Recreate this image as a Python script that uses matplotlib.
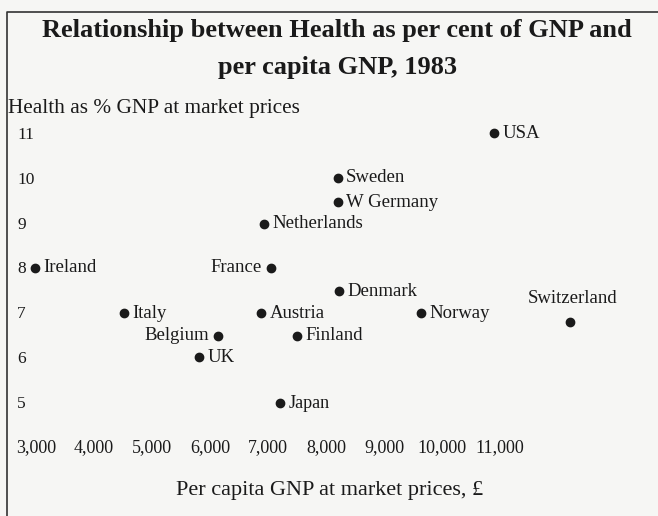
import matplotlib.pyplot as plt
from matplotlib.lines import Line2D

# data
countries = ["USA", "Sweden", "W Germany", "Netherlands", "Ireland", "France",
             "Denmark", "Italy", "Austria", "Norway", "Switzerland", "Belgium",
             "Finland", "UK", "Japan"]
gnp_per_capita = [10900, 8200, 8200, 6930, 2980, 7050,
                  8220, 4520, 6880, 9640, 12200, 6140,
                  7500, 5810, 7210]
health_pct = [11.0, 10.0, 9.46, 8.97, 7.99, 7.99,
              7.47, 6.98, 6.98, 6.98, 6.78, 6.47,
              6.47, 6.0, 4.97]

x_ticks = [3000, 4000, 5000, 6000, 7000, 8000, 9000, 10000, 11000]
y_ticks = [5, 6, 7, 8, 9, 10, 11]

# where each label sits relative to its dot
label_side = {"France": "left", "Belgium": "left", "Switzerland": "above"}

plt.rcParams['font.family'] = ['Liberation Serif', 'DejaVu Serif']
bg = '#f6f6f4'
ink = '#1a1a1a'

fig = plt.figure(figsize=(6.58, 5.16), dpi=100, facecolor=bg)
ax = fig.add_axes([12 / 658, 80 / 516, 646 / 658, 336 / 516])
ax.set_facecolor(bg)
ax.set_xlim(2586, 13724)
ax.set_ylim(4.237, 11.737)
for s in ax.spines.values():
    s.set_visible(False)

ax.scatter(gnp_per_capita, health_pct, s=36, color=ink, zorder=3, clip_on=False)

for name, x, y in zip(countries, gnp_per_capita, health_pct):
    side = label_side.get(name, "right")
    size = 13 if name == "Japan" else 13.5
    if side == "left":
        ax.annotate(name, (x, y), xytext=(-6.5, 0), textcoords='offset points',
                    ha='right', va='center', fontsize=size, color=ink)
    elif side == "above":
        ax.annotate(name, (x, y), xytext=(2, 17), textcoords='offset points',
                    ha='center', va='center', fontsize=size, color=ink)
    else:
        ax.annotate(name, (x, y), xytext=(6, 0), textcoords='offset points',
                    ha='left', va='center', fontsize=size, color=ink)

# tick labels sit inside the frame, no tick marks
ax.set_yticks(y_ticks)
ax.set_yticklabels([str(v) for v in y_ticks], fontsize=12.5, color=ink)
for lab in ax.get_yticklabels():
    lab.set_horizontalalignment('left')
ax.tick_params(axis='y', length=0, pad=-3.6)

ax.set_xticks(x_ticks)
ax.set_xticklabels([f"{v:,}" for v in x_ticks], fontsize=13, color=ink)
ax.tick_params(axis='x', length=0, pad=2)

fig.text(337 / 658, 1 - 49 / 516,
         "Relationship between Health as per cent of GNP and\nper capita GNP, 1983",
         ha='center', va='center', fontsize=19, fontweight='bold',
         linespacing=1.75, color=ink)
fig.text(8 / 658, 1 - 108 / 516, "Health as % GNP at market prices",
         ha='left', va='center', fontsize=15.3, color=ink)
fig.text(330 / 658, 1 - 490 / 516, "Per capita GNP at market prices, £",
         ha='center', va='center', fontsize=16, color=ink)

# frame: left and top edges only
fig.add_artist(Line2D([7 / 658, 7 / 658, 1.0], [0.0, 1 - 12 / 516, 1 - 12 / 516],
                      transform=fig.transFigure, color='#333333', lw=1.2))

fig.savefig('out.png', dpi=100, facecolor=bg)
